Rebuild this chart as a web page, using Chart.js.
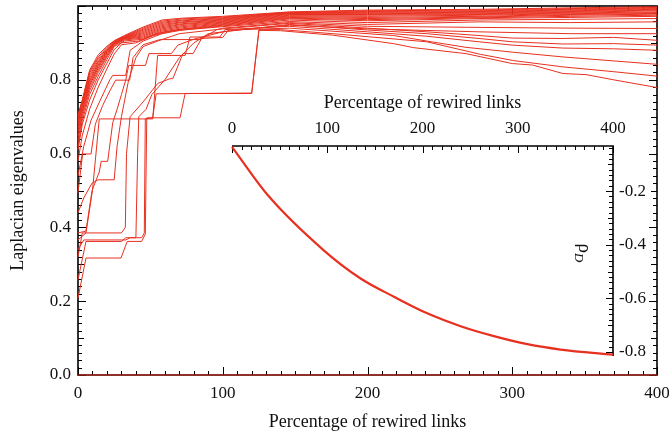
<!DOCTYPE html>
<html>
<head>
<meta charset="utf-8">
<script src="https://cdn.jsdelivr.net/npm/chart.js@4.4.1/dist/chart.umd.min.js"></script>
<style>
  html, body { margin: 0; padding: 0; background: #fff; }
  #wrap { position: relative; width: 669px; height: 437px; }
  #main { position: absolute; left: 0; top: 0; }
  #inset { position: absolute; left: 200px; top: 85px; }
</style>
</head>
<body>
<div id="wrap">
  <canvas id="main" width="669" height="437"></canvas>
  <canvas id="inset" width="469" height="280"></canvas>
</div>
<script>
// ---------------- DATA ----------------
// Main chart tick labels
const mainXTicks = [0, 100, 200, 300, 400];
const mainYTicks = [0.0, 0.2, 0.4, 0.6, 0.8];
// Inset tick labels
const insetXTicks = [0, 100, 200, 300, 400];
const insetYTicks = [-0.8, -0.6, -0.4, -0.2];

// Laplacian eigenvalues vs percentage of rewired links, each as [x, y] vertices
const eig01 = [[0,0],[400,0]];
const eig02 = [[0,.208],[5.5,.317],[29.7,.317],[34,.362],[44,.362],[46.5,.382],[47.5,.697],[70.5,.697],[74,.763],[120,.763],[125,.934],[140,.933],[176,.921],[218,.898],[232,.887],[268,.871],[300,.844],[314,.840],[335,.817],[351,.814],[370,.800],[400,.779]];
const eig03 = [[0,.258],[5.5,.362],[30,.362],[33,.372],[44,.372],[45.8,.385],[46.5,.694],[51.6,.697],[54,.762],[120,.764],[125,.936],[140,.936],[176,.925],[241,.903],[278,.869],[301,.852],[335,.835],[370,.822],[400,.810]];
const eig04 = [[0,.32],[3,.385],[30,.385],[32.7,.40],[33.5,.60],[36,.70],[45,.74],[55,.79],[63.5,.803],[65.5,.803],[72.5,.871],[79.5,.871],[85.4,.912],[100,.915],[104,.935],[146,.94],[218,.92],[241,.905],[268,.888],[300,.875],[335,.862],[400,.842]];
const eig05 = [[0,.34],[4,.366],[33,.366],[36,.372],[40,.372],[41.2,.60],[42,.70],[47,.72],[51,.76],[60,.80],[70,.86],[80,.90],[90,.925],[110,.935],[146,.948],[200,.938],[277,.930],[340,.925],[400,.925]];
const eig06 = [[0,.366],[5.5,.385],[10,.50],[14.7,.694],[51.6,.694],[53,.762],[55,.866],[74,.866],[77.4,.916],[98,.916],[101.5,.936],[146,.945],[200,.930],[241,.918],[277,.903],[300,.894],[335,.886],[370,.884],[400,.880]];
const eig07 = [[0,.385],[5.5,.39],[9.7,.50],[14.7,.55],[16,.579],[20.5,.579],[24,.684],[27,.72],[30,.76],[33,.80],[35,.839],[46.6,.839],[49,.871],[64.5,.871],[69,.894],[80,.91],[100,.930],[146,.950],[200,.935],[241,.925],[277,.912],[300,.903],[335,.897],[370,.898],[400,.894]];
const eig08 = [[0,.44],[4,.48],[9.7,.52],[14,.529],[25,.529],[27,.62],[30,.70],[35,.80],[40,.86],[45,.89],[55,.905],[70,.925],[100,.938],[146,.953],[200,.940],[241,.930],[277,.920],[300,.913],[335,.912],[370,.915],[400,.907]];
const eig09 = [[0,.494],[3.2,.599],[9,.599],[12,.68],[17,.73],[22,.77],[26,.799],[35.7,.799],[38,.86],[45,.895],[56.6,.909],[84.3,.909],[96,.936],[100,.940],[146,.955],[200,.945],[277,.942],[340,.940],[400,.939]];
const eig10 = [[0,.54],[4,.62],[9,.69],[16,.75],[22,.80],[24,.812],[33,.812],[36,.88],[45,.905],[58,.925],[72,.935],[100,.944],[146,.958],[200,.950],[277,.957],[340,.955],[400,.957]];
const eig11 = [[0,.58],[3,.65],[8,.72],[14,.78],[20,.83],[25,.87],[30,.895],[40,.90],[52,.92],[65,.932],[100,.946],[146,.962],[200,.955],[277,.962],[340,.964],[400,.966]];
const eig12 = [[0,.61],[3,.68],[8,.745],[14,.80],[20,.845],[25,.882],[30,.900],[42,.905],[55,.926],[68,.935],[100,.948],[146,.965],[200,.960],[277,.966],[340,.969],[400,.972]];
const eig13 = [[0,.620],[3,.690],[8,.760],[14,.810],[20,.855],[25,.890],[32,.905],[45,.910],[58,.929],[72,.938],[100,.950],[146,.967],[200,.963],[277,.968],[340,.972],[400,.975]];
const eig14 = [[0,.635],[3,.700],[8,.770],[14,.820],[20,.862],[25,.893],[32,.908],[45,.913],[58,.932],[72,.941],[100,.952],[146,.969],[200,.966],[277,.970],[340,.975],[400,.978]];
const eig15 = [[0,.648],[3,.708],[8,.778],[14,.826],[20,.866],[25,.895],[32,.910],[45,.916],[58,.935],[72,.944],[100,.954],[146,.971],[200,.969],[277,.972],[340,.977],[400,.980]];
const eig16 = [[0,.660],[3,.715],[8,.785],[14,.832],[20,.870],[25,.897],[32,.911],[45,.919],[58,.938],[72,.947],[100,.956],[146,.973],[200,.972],[277,.975],[340,.979],[400,.982]];
const eig17 = [[0,.670],[3,.720],[8,.790],[14,.836],[20,.873],[25,.898],[32,.912],[45,.922],[58,.941],[72,.950],[100,.958],[146,.975],[200,.975],[277,.977],[340,.981],[400,.984]];
const eig18 = [[0,.678],[3,.725],[8,.795],[14,.840],[20,.876],[25,.899],[32,.913],[45,.925],[58,.944],[72,.952],[100,.960],[146,.977],[200,.977],[277,.979],[340,.983],[400,.987]];
const eig19 = [[0,.685],[3,.730],[8,.800],[14,.844],[20,.878],[25,.900],[32,.914],[45,.928],[58,.947],[72,.955],[100,.962],[146,.979],[200,.979],[277,.981],[340,.985],[400,.989]];
const eig20 = [[0,.690],[3,.734],[8,.806],[14,.848],[20,.880],[25,.901],[32,.915],[45,.931],[58,.950],[72,.957],[100,.964],[146,.980],[200,.981],[277,.983],[340,.987],[400,.991]];
const eig21 = [[0,.695],[3,.738],[8,.812],[14,.852],[20,.882],[25,.902],[32,.916],[45,.934],[58,.953],[72,.960],[100,.966],[146,.981],[200,.983],[277,.985],[340,.989],[400,.993]];
const eig22 = [[0,.700],[3,.741],[8,.818],[14,.857],[20,.885],[25,.903],[32,.917],[45,.937],[58,.956],[72,.962],[100,.968],[146,.982],[200,.985],[277,.987],[340,.991],[400,.995]];
const eig23 = [[0,.702],[3,.744],[8,.822],[14,.862],[20,.888],[25,.905],[32,.918],[45,.940],[58,.959],[72,.965],[100,.970],[146,.983],[200,.987],[277,.989],[340,.993],[400,.996]];
const eig24 = [[0,.705],[3,.746],[8,.826],[14,.868],[20,.891],[25,.906],[32,.920],[45,.943],[58,.962],[72,.967],[100,.972],[146,.984],[200,.989],[277,.991],[340,.995],[400,.998]];

// Inset: rho_D vs percentage of rewired links
const rhoX = [0, 37.5, 96, 135, 170, 205, 240, 275, 310, 345, 400];
const rhoY = [-0.035, -0.215, -0.42, -0.526, -0.594, -0.656, -0.704, -0.741, -0.771, -0.791, -0.81];

// ---------------- STYLE ----------------
const RED = 'rgb(232,48,32)';
const FONT = 'Liberation Serif';
const TXT = '#111';

const allEig = [eig01,eig02,eig03,eig04,eig05,eig06,eig07,eig08,eig09,eig10,eig11,eig12,
                eig13,eig14,eig15,eig16,eig17,eig18,eig19,eig20,eig21,eig22,eig23,eig24];

function noPad(s) { s.paddingLeft = 0; s.paddingRight = 0; s.paddingTop = 0; s.paddingBottom = 0; }

const mainFrame = {
  id: 'mainFrame',
  beforeDatasetsDraw(chart) {
    const {ctx, chartArea: a, scales: {x, y}} = chart;
    ctx.save();
    ctx.strokeStyle = '#000';
    ctx.lineWidth = 1;
    ctx.beginPath();
    for (let i = 0; i <= 40; i++) {
      const v = i * 10;
      const px = Math.round(x.getPixelForValue(v)) + 0.5;
      const L = (i % 10 === 0) ? 8 : 4;
      ctx.moveTo(px, a.bottom); ctx.lineTo(px, a.bottom - L);
      ctx.moveTo(px, a.top); ctx.lineTo(px, a.top + L);
    }
    for (let i = 0; i <= 50; i++) {
      const v = i * 0.02;
      const py = Math.round(y.getPixelForValue(v)) + 0.5;
      const L = (i % 10 === 0) ? 8 : (i % 5 === 0 ? 6 : 4);
      ctx.moveTo(a.left, py); ctx.lineTo(a.left + L, py);
      ctx.moveTo(a.right, py); ctx.lineTo(a.right - L, py);
    }
    ctx.stroke();
    ctx.lineWidth = 1.6;
    ctx.strokeRect(a.left, a.top, a.right - a.left, a.bottom - a.top);
    ctx.restore();
  }
};

new Chart(document.getElementById('main'), {
  type: 'line',
  data: {
    datasets: allEig.map(s => ({
      data: s.map(p => ({x: p[0], y: p[1]})),
      borderColor: RED,
      borderWidth: 1,
      pointRadius: 0,
      fill: false,
      tension: 0,
      clip: false
    }))
  },
  options: {
    responsive: false,
    animation: false,
    events: [],
    layout: { padding: { top: 6, right: 12, left: 0, bottom: 0 } },
    plugins: { legend: { display: false }, tooltip: { enabled: false } },
    scales: {
      x: {
        type: 'linear', min: 0, max: 400,
        grid: { display: false, drawTicks: false, tickLength: 0 }, border: { display: false },
        afterBuildTicks: s => { s.ticks = mainXTicks.map(v => ({value: v})); },
        afterFit: s => { s.height = 62; noPad(s); },
        ticks: { color: TXT, font: { family: FONT, size: 17 }, padding: 8, maxRotation: 0,
                 callback: v => String(v) },
        title: { display: true, text: 'Percentage of rewired links', color: TXT,
                 font: { family: FONT, size: 18 }, padding: { top: 0, bottom: 4 } }
      },
      y: {
        type: 'linear', min: 0, max: 1,
        grid: { display: false, drawTicks: false, tickLength: 0 }, border: { display: false },
        afterBuildTicks: s => { s.ticks = mainYTicks.map(v => ({value: v})); },
        afterFit: s => { s.width = 78; noPad(s); },
        ticks: { color: TXT, font: { family: FONT, size: 17 }, padding: 7,
                 callback: v => Number(v).toFixed(1) },
        title: { display: true, text: 'Laplacian eigenvalues', color: TXT,
                 font: { family: FONT, size: 18 }, padding: { top: 7, bottom: 0 } }
      }
    }
  },
  plugins: [mainFrame]
});

const insetFrame = {
  id: 'insetFrame',
  beforeDatasetsDraw(chart) {
    const {ctx, chartArea: a, scales: {x, y}} = chart;
    ctx.save();
    ctx.strokeStyle = '#000';
    ctx.lineWidth = 1;
    ctx.beginPath();
    for (let i = 0; i <= 40; i++) {
      const v = i * 10;
      const px = Math.round(x.getPixelForValue(v)) + 0.5;
      const L = (i % 10 === 0) ? 7 : 4;
      ctx.moveTo(px, a.top); ctx.lineTo(px, a.top + L);
    }
    for (let i = 2; i <= 40; i++) {
      const v = -i * 0.02;
      if (v < y.min - 1e-9) break;
      const py = Math.round(y.getPixelForValue(v)) + 0.5;
      const L = (i % 10 === 0) ? 7 : (i % 5 === 0 ? 5 : 4);
      ctx.moveTo(a.right, py); ctx.lineTo(a.right - L, py);
    }
    ctx.stroke();
    ctx.lineWidth = 1.6;
    ctx.beginPath();
    ctx.moveTo(a.left, a.top); ctx.lineTo(a.right, a.top); ctx.lineTo(a.right, a.bottom);
    ctx.stroke();
    // rotated axis label rho_D inside the plot, left of right axis
    ctx.fillStyle = TXT;
    ctx.translate(a.right - 30, (a.top + a.bottom) / 2 + 2);
    ctx.rotate(Math.PI / 2);
    ctx.font = '19px ' + FONT;
    const w1 = ctx.measureText('ρ').width;
    ctx.font = 'italic 13px ' + FONT;
    const w2 = ctx.measureText('D').width;
    const start = -(w1 + w2) / 2;
    ctx.textBaseline = 'alphabetic';
    ctx.font = '19px ' + FONT;
    ctx.fillText('ρ', start, 4);
    ctx.font = 'italic 13px ' + FONT;
    ctx.fillText('D', start + w1, 8);
    ctx.restore();
  }
};

new Chart(document.getElementById('inset'), {
  type: 'line',
  data: {
    datasets: [{
      data: rhoX.map((v, i) => ({x: v, y: rhoY[i]})),
      borderColor: RED,
      borderWidth: 2.2,
      pointRadius: 0,
      fill: false,
      cubicInterpolationMode: 'monotone',
      clip: false
    }]
  },
  options: {
    responsive: false,
    animation: false,
    events: [],
    layout: { padding: { top: 0, right: 0, left: 32, bottom: 9 } },
    plugins: { legend: { display: false }, tooltip: { enabled: false } },
    scales: {
      x: {
        type: 'linear', position: 'top', min: 0, max: 400,
        grid: { display: false, drawTicks: false, tickLength: 0 }, border: { display: false },
        afterBuildTicks: s => { s.ticks = insetXTicks.map(v => ({value: v})); },
        afterFit: s => { s.height = 61; noPad(s); },
        ticks: { color: TXT, font: { family: FONT, size: 17 }, padding: 7, maxRotation: 0,
                 callback: v => String(v) },
        title: { display: true, text: 'Percentage of rewired links', color: TXT,
                 font: { family: FONT, size: 18 }, padding: { top: 7, bottom: 0 } }
      },
      y: {
        type: 'linear', position: 'right', min: -0.815, max: -0.032,
        grid: { display: false, drawTicks: false, tickLength: 0 }, border: { display: false },
        afterBuildTicks: s => { s.ticks = insetYTicks.map(v => ({value: v})); },
        afterFit: s => { s.width = 56; noPad(s); },
        ticks: { color: TXT, font: { family: FONT, size: 17 }, padding: 6,
                 callback: v => Number(v).toFixed(1) }
      }
    }
  },
  plugins: [insetFrame]
});
</script>
</body>
</html>
